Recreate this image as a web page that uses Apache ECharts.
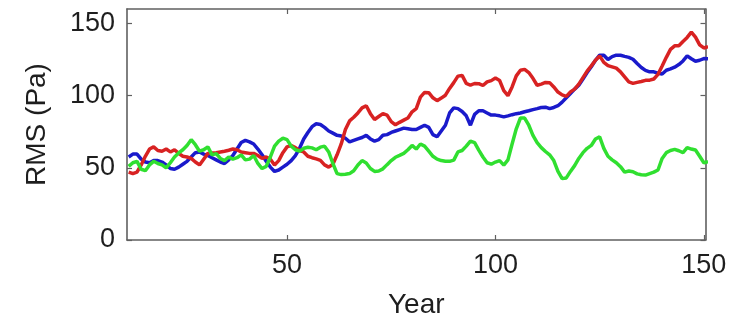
<!DOCTYPE html>
<html>
<head>
<meta charset="utf-8">
<script src="https://cdn.jsdelivr.net/npm/echarts@6/dist/echarts.min.js"></script>
<style>
  html, body { margin: 0; padding: 0; background: #fff; }
  #chart { width: 737px; height: 326px; }
</style>
</head>
<body>
<div id="chart"></div>
<script>
// Annual RMS pressure, one value per year for each run
const years = [];
for (let y = 12; y <= 151; y++) years.push(y);

const blueValues = [
  57.5, 59.5, 59.5, 56, 54, 53.5, 55, 55, 54, 52,
  49.5, 49, 50.5, 52.5, 54.5, 57.5, 60.5, 61, 59.5, 58.5,
  57, 55.5, 54, 53, 55.5, 58.5, 63, 67.5, 69, 68,
  66.5, 63, 59, 54.5, 50.5, 47.5, 48.5, 50.5, 52.5, 55,
  58.5, 63.5, 70, 74.5, 78.5, 80.5, 80, 78, 75.5, 74,
  72.5, 72, 70.5, 68, 69, 70, 71, 72.5, 70, 68.5,
  69.5, 72.5, 73, 74.5, 75.5, 76.5, 77.5, 77, 76.5, 76.5,
  78, 79.5, 78, 73, 71.5, 75.5, 79.5, 88, 91.5, 91,
  89, 86, 79.5, 87, 89.5, 89.5, 88, 86.5, 86.5, 86,
  85.3, 86, 86.8, 87.5, 88, 88.8, 89.5, 90.3, 91, 91.8,
  92, 91, 91.8, 93, 95.5, 98.5, 101.5, 104.5, 107.2, 111.5,
  116, 120, 124.5, 128, 128, 125, 127, 128, 128, 127.2,
  126.5, 125.2, 122.2, 119.5, 117.5, 116.5, 116.5, 115.5, 115, 117.6,
  118.5, 119.7, 121.5, 124, 127.5, 125.5, 123.8, 124.5, 125.7, 125.5
];

const redValues = [
  47, 46, 47, 52, 58, 63, 64.5, 62, 61.5, 63,
  61, 62.5, 60, 58, 57.5, 56.5, 54, 52, 56, 60,
  60.3, 60.5, 61, 61.5, 62.2, 63, 62.5, 61, 60.5, 60,
  60, 58.5, 56.5, 57.5, 56, 52, 55, 60.5, 64.5, 65.5,
  64, 62, 61, 58, 57, 56.2, 55.2, 52, 50.5, 52.5,
  59, 66.5, 76.5, 82.5, 85, 88, 91.5, 93, 87.5, 83.5,
  85.5, 87.5, 86.5, 82, 79.8, 81.5, 83, 84.5, 88.8, 91,
  99, 102.2, 102, 98.5, 96.5, 98.3, 100.3, 105, 109, 113.5,
  114, 108.5, 107.2, 108.4, 108.3, 107, 109.5, 110.4, 112.2, 110.5,
  103.5, 100, 106, 113.7, 117.6, 118.2, 116, 112, 107.2, 108,
  109.1, 109, 106, 102.5, 100.5, 99.5, 102.6, 104.5, 108, 112.5,
  117, 120.6, 124.5, 127.5, 123, 120.8, 119.9, 119, 116.5, 113,
  109.5, 108.5, 109.2, 109.8, 110.6, 110.7, 111.5, 114.7, 120.5, 126.5,
  132, 134.5, 134.5, 137.5, 140.3, 144, 140.5, 135.2, 133, 134
];

const greenValues = [
  51, 53.5, 54.5, 49, 48, 52, 54.5, 53, 52, 50,
  53.5, 57.5, 60.3, 62.5, 65.5, 69.5, 66, 61.5, 62.5, 64.5,
  59, 59.8, 56.5, 55, 57.5, 56, 57, 59, 55.5, 56,
  58.5, 53, 49.5, 51, 57.5, 65, 68.5, 70.5, 69.5, 65,
  62.5, 61.5, 63.5, 64.2, 63.8, 62.5, 64.3, 65, 61, 53,
  46, 45.3, 45.5, 46, 48, 52, 55, 53.3, 49.5, 47.5,
  47.8, 49.3, 52.2, 55, 57.3, 58.6, 60, 62.5, 65.5, 63,
  66.5, 65, 61.5, 58, 56, 55, 54.5, 54.5, 55.3, 61,
  62, 65, 68.5, 67.5, 62.2, 57.5, 53.5, 52.5, 54, 55,
  51.9, 55.5, 66.5, 77, 84.5, 84.5, 79.5, 72.5, 67.5, 64,
  61.3, 59, 55, 47.5, 42.5, 43, 47.5, 51.5, 56.5, 60.5,
  63.5, 65.5, 70, 71.5, 63.5, 58, 55.5, 53.5, 50.8, 47,
  47.8, 47.3, 45.8, 45.2, 45, 46, 47, 48.5, 56.5, 60.5,
  62, 62.8, 61.8, 60.5, 64, 63, 62.3, 58, 53.5, 54.2
];

const xTicks = [50, 100, 150];
const yTicks = [0, 50, 100, 150];

const pairs = vals => years.map((y, i) => [y, vals[i]]);

const frameColor = '#606060';
const textColor = '#1e1e1e';
const fontFamily = '"Liberation Sans", Arial, Helvetica, sans-serif';

// Box frame: every side is an axis line carrying short inward ticks
function frameAxis(extra) {
  return Object.assign({
    type: 'value',
    axisLine: { show: true, onZero: false, lineStyle: { color: frameColor, width: 1.6 } },
    splitLine: { show: false },
    axisLabel: { show: false }
  }, extra);
}

function ticks(values) {
  return { show: true, inside: true, length: 5, customValues: values, lineStyle: { color: frameColor, width: 1.2 } };
}

const chart = echarts.init(document.getElementById('chart'), null, { renderer: 'canvas' });

const xRange = { min: 11.6, max: 150.4 };
const yRange = { min: 0, max: 160 };

chart.setOption({
  animation: false,
  backgroundColor: '#fff',
  grid: { left: 127, right: 31.5, top: 9, bottom: 86 },
  xAxis: [
    frameAxis(Object.assign({
      position: 'bottom',
      name: 'Year',
      nameLocation: 'middle',
      nameGap: 51,
      nameTextStyle: { fontFamily, fontSize: 28, color: textColor },
      axisTick: ticks(xTicks),
      axisLabel: { show: true, customValues: xTicks, margin: 12, fontFamily, fontSize: 27, color: textColor }
    }, xRange)),
    frameAxis(Object.assign({ position: 'top', axisTick: ticks(xTicks) }, xRange))
  ],
  yAxis: [
    frameAxis(Object.assign({
      position: 'left',
      name: 'RMS (Pa)',
      nameLocation: 'middle',
      nameGap: 76,
      nameTextStyle: { fontFamily, fontSize: 28, color: textColor },
      axisTick: ticks(yTicks),
      axisLabel: { show: true, customValues: yTicks, margin: 12, fontFamily, fontSize: 27, color: textColor }
    }, yRange)),
    frameAxis(Object.assign({ position: 'right', axisTick: ticks(yTicks) }, yRange))
  ],
  series: [
    { name: 'Blue run', type: 'line', data: pairs(blueValues), showSymbol: false, clip: true,
      lineStyle: { color: '#1a1acb', width: 3.5 } },
    { name: 'Red run', type: 'line', data: pairs(redValues), showSymbol: false, clip: true,
      lineStyle: { color: '#d82222', width: 3.5 } },
    { name: 'Green run', type: 'line', data: pairs(greenValues), showSymbol: false, clip: true,
      lineStyle: { color: '#30df30', width: 3.5 } }
  ]
});
</script>
</body>
</html>
